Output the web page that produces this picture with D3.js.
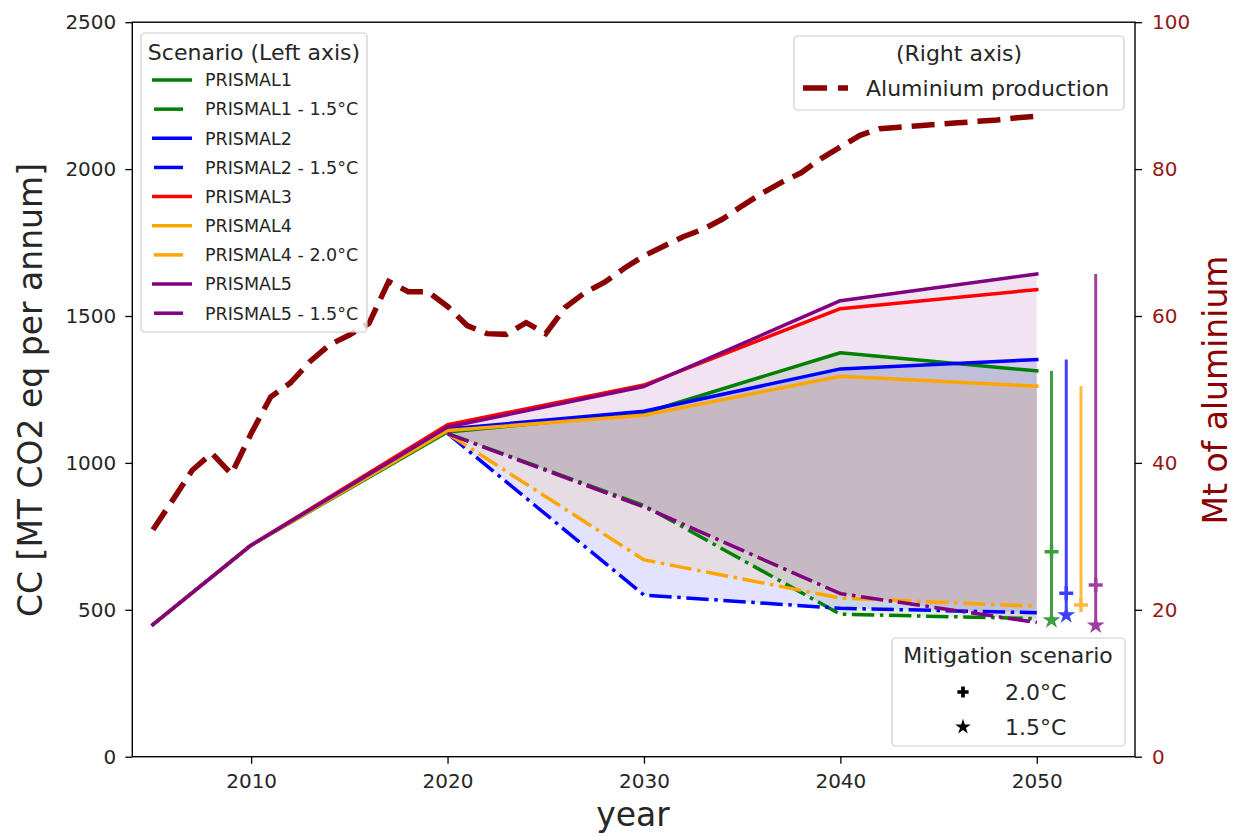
<!DOCTYPE html>
<html>
<head>
<meta charset="utf-8">
<script src="https://cdn.jsdelivr.net/npm/d3@7"></script>
<style>
  body { margin: 0; background: #fff; }
  text { font-family: "DejaVu Sans", sans-serif; }
</style>
</head>
<body>
<svg id="chart"></svg>
<script>
// scenario years (left axis, Mt CO2 eq per annum)
const years = [2005, 2010, 2020, 2030, 2040, 2050];
const mitYears = [2020, 2030, 2040, 2050];

const prismal1 = [450, 720, 1105, 1170, 1375, 1313];
const prismal2 = [450, 720, 1115, 1176, 1320, 1352];
const prismal3 = [450, 720, 1130, 1265, 1525, 1590];
const prismal4 = [450, 720, 1110, 1162, 1295, 1261];
const prismal5 = [450, 720, 1122, 1260, 1552, 1643];

const prismal1_15 = [1100, 855, 485, 470];
const prismal2_15 = [1100, 550, 505, 490];
const prismal4_20 = [1100, 670, 540, 512];
const prismal5_15 = [1100, 850, 555, 457];

// end-of-period markers (2050 ranges)
const markerYears = [2050.75, 2051.5, 2052.25, 2053];
const markerPlus = [698, 556, 516, 584];
const markerStar = [465, 482, null, 447];

// aluminium production (right axis, Mt)
const aluYears = d3.range(2005, 2051);
const aluminium = [30.9, 34.9, 39.0, 41.3, 38.5, 44.0, 49.0, 50.9, 53.8, 56.1,
                   57.4, 59.0, 64.7, 63.3, 63.3, 61.3, 58.7, 57.6, 57.5, 59.1,
                   57.6, 61.2, 63.2, 64.6, 66.5, 68.2, 69.5, 70.8, 71.8, 73.2,
                   75.0, 76.7, 78.2, 79.5, 81.4, 83.0, 84.6, 85.5, 85.7, 85.9,
                   86.1, 86.3, 86.5, 86.7, 87.0, 87.2];

const leftTicks = [0, 500, 1000, 1500, 2000, 2500];
const rightTicks = [0, 20, 40, 60, 80, 100];
const xTicks = [2010, 2020, 2030, 2040, 2050];

const scenarios = [
  {name: "PRISMAL1", color: "green", base: prismal1, mit: prismal1_15, mitName: "PRISMAL1 - 1.5°C"},
  {name: "PRISMAL2", color: "blue", base: prismal2, mit: prismal2_15, mitName: "PRISMAL2 - 1.5°C"},
  {name: "PRISMAL3", color: "red", base: prismal3, mit: null},
  {name: "PRISMAL4", color: "orange", base: prismal4, mit: prismal4_20, mitName: "PRISMAL4 - 2.0°C"},
  {name: "PRISMAL5", color: "purple", base: prismal5, mit: prismal5_15, mitName: "PRISMAL5 - 1.5°C"}
];
const withMit = scenarios.filter(s => s.mit);

const W = 1238, H = 837;
const plot = {left: 132.3, right: 1135, top: 22.2, bottom: 756.7};
const textCol = "#262626";
const alCol = "#8b0000";
const alTickCol = "#951818";

const svg = d3.select("#chart").attr("width", W).attr("height", H);

const x = d3.scaleLinear().domain([2003.95, 2055]).range([plot.left, plot.right]);
const yL = d3.scaleLinear().domain([0, 2500]).range([plot.bottom, plot.top]);
const yR = d3.scaleLinear().domain([0, 100]).range([plot.bottom, plot.top]);

// fills between baseline and mitigation pathway, 2020-2050
const area = d3.area().x(d => x(d.year)).y0(d => yL(d.lo)).y1(d => yL(d.hi));
const fills = svg.append("g");
withMit.forEach(s => {
  const pts = mitYears.map((yr, i) => ({year: yr, hi: s.base[years.indexOf(yr)], lo: s.mit[i]}));
  fills.append("path").attr("d", area(pts))
    .attr("fill", s.color).attr("fill-opacity", 0.11).attr("stroke", "none");
});

// lines
const line = d3.line().x(d => x(d[0])).y(d => yL(d[1]));
const dashDot = "22.4,5.6,3.5,5.6";
const lines = svg.append("g").attr("fill", "none").attr("stroke-width", 3.5);
scenarios.forEach(s => {
  lines.append("path").attr("d", line(years.map((yr, i) => [yr, s.base[i]])))
    .attr("stroke", s.color).attr("stroke-linejoin", "round").attr("stroke-linecap", "square");
  if (s.mit) {
    lines.append("path").attr("d", line(mitYears.map((yr, i) => [yr, s.mit[i]])))
      .attr("stroke", s.color).attr("stroke-dasharray", dashDot);
  }
});

// 2050 ranges with 2.0 / 1.5 markers
const star = d3.symbol().type(d3.symbolStar).size(100);
const marks = svg.append("g").attr("opacity", 0.75);
withMit.forEach((s, i) => {
  const xx = x(markerYears[i]);
  const top = s.base[s.base.length - 1];
  const bottom = markerStar[i] != null ? markerStar[i] : markerPlus[i];
  marks.append("line").attr("x1", xx).attr("x2", xx)
    .attr("y1", yL(top)).attr("y2", yL(bottom))
    .attr("stroke", s.color).attr("stroke-width", 3);
  const py = yL(markerPlus[i]);
  marks.append("path").attr("d", `M${xx - 7},${py}H${xx + 7}M${xx},${py - 7}V${py + 7}`)
    .attr("stroke", s.color).attr("stroke-width", 3.5);
  if (markerStar[i] != null) {
    marks.append("path").attr("d", star())
      .attr("transform", `translate(${xx},${yL(markerStar[i])})`)
      .attr("fill", s.color);
  }
});

// aluminium production on right axis
const alLine = d3.line().x((d, i) => x(aluYears[i])).y(d => yR(d));
svg.append("path").attr("d", alLine(aluminium))
  .attr("fill", "none").attr("stroke", alCol).attr("stroke-width", 5.5)
  .attr("stroke-dasharray", "23,10");

// frame
svg.append("rect").attr("x", plot.left).attr("y", plot.top)
  .attr("width", plot.right - plot.left).attr("height", plot.bottom - plot.top)
  .attr("fill", "none").attr("stroke", "#000").attr("stroke-width", 1.4);

// axes
function styleAxis(g, col) {
  g.select(".domain").remove();
  g.selectAll("line").attr("stroke", "#000").attr("stroke-width", 1.3);
  g.selectAll("text").attr("font-size", 20).attr("fill", col)
    .attr("font-family", "DejaVu Sans, sans-serif");
}
svg.append("g").attr("transform", `translate(0,${plot.bottom})`)
  .call(d3.axisBottom(x).tickValues(xTicks).tickFormat(d3.format("d")).tickSize(7).tickPadding(10))
  .call(g => styleAxis(g, textCol));
svg.append("g").attr("transform", `translate(${plot.left},0)`)
  .call(d3.axisLeft(yL).tickValues(leftTicks).tickFormat(d3.format("d")).tickSize(7).tickPadding(9))
  .call(g => styleAxis(g, textCol));
svg.append("g").attr("transform", `translate(${plot.right},0)`)
  .call(d3.axisRight(yR).tickValues(rightTicks).tickFormat(d3.format("d")).tickSize(7).tickPadding(10))
  .call(g => styleAxis(g, alTickCol));

// axis labels
svg.append("text").attr("x", 633).attr("y", 826).attr("text-anchor", "middle")
  .attr("font-size", 33).attr("fill", textCol).text("year");
svg.append("text").attr("transform", "translate(42,390) rotate(-90)").attr("text-anchor", "middle")
  .attr("font-size", 33).attr("fill", textCol).text("CC [MT CO2 eq per annum]");
svg.append("text").attr("transform", "translate(1227,390) rotate(-90)").attr("text-anchor", "middle")
  .attr("font-size", 33).attr("fill", alCol).text("Mt of aluminium");

// legends
function legendBox(x0, y0, w, h) {
  svg.append("rect").attr("x", x0).attr("y", y0).attr("width", w).attr("height", h)
    .attr("rx", 4).attr("fill", "#fff").attr("fill-opacity", 0.8)
    .attr("stroke", "#cccccc").attr("stroke-width", 1.2);
}

// left: scenarios
legendBox(141, 33, 226, 299);
svg.append("text").attr("x", 254).attr("y", 59.5).attr("text-anchor", "middle")
  .attr("font-size", 22).attr("fill", textCol).text("Scenario (Left axis)");
const legendRows = [];
scenarios.forEach(s => {
  legendRows.push({label: s.name, color: s.color, dashed: false});
  if (s.mit) legendRows.push({label: s.mitName, color: s.color, dashed: true});
});
legendRows.forEach((r, i) => {
  const yy = 80 + i * 29.15;
  svg.append("line").attr("x1", r.dashed ? 154 : 152).attr("x2", r.dashed ? 183 : 192)
    .attr("y1", yy).attr("y2", yy).attr("stroke", r.color).attr("stroke-width", 3.5);
  svg.append("text").attr("x", 205).attr("y", yy + 6.3)
    .attr("font-size", 17.5).attr("fill", textCol).text(r.label);
});

// right: aluminium
legendBox(794, 36, 330, 74);
svg.append("text").attr("x", 959).attr("y", 61).attr("text-anchor", "middle")
  .attr("font-size", 22).attr("fill", textCol).text("(Right axis)");
svg.append("line").attr("x1", 803).attr("x2", 848).attr("y1", 88).attr("y2", 88)
  .attr("stroke", alCol).attr("stroke-width", 5.5).attr("stroke-dasharray", "24,11");
svg.append("text").attr("x", 866).attr("y", 96).attr("font-size", 22)
  .attr("fill", textCol).text("Aluminium production");

// bottom right: mitigation markers
legendBox(892, 638, 233, 108);
svg.append("text").attr("x", 1008).attr("y", 663).attr("text-anchor", "middle")
  .attr("font-size", 22).attr("fill", textCol).text("Mitigation scenario");
const plusP = d3.symbol().type(d3.symbolCross).size(70);
svg.append("path").attr("d", plusP()).attr("transform", "translate(963,692)").attr("fill", "#000");
svg.append("path").attr("d", d3.symbol().type(d3.symbolStar).size(75)())
  .attr("transform", "translate(963,727)").attr("fill", "#000");
svg.append("text").attr("x", 1005).attr("y", 700).attr("font-size", 22).attr("fill", textCol).text("2.0°C");
svg.append("text").attr("x", 1005).attr("y", 735).attr("font-size", 22).attr("fill", textCol).text("1.5°C");
</script>
</body>
</html>
